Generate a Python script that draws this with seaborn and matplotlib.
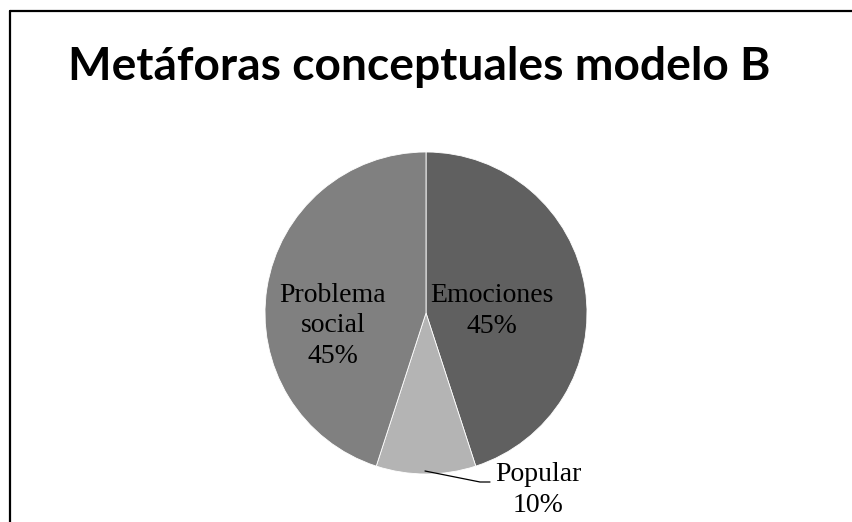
import matplotlib
matplotlib.use("Agg")
import matplotlib.pyplot as plt
import seaborn as sns
from matplotlib.lines import Line2D

# ---- data ----
categories = ["Emociones", "Popular", "Problema social"]
shares = [45, 10, 45]
slice_colors = ["#606060", "#b4b4b4", "#808080"]

sns.set_theme(style="white")
plt.rcParams["font.family"] = ["Liberation Serif", "DejaVu Serif"]

W, H = 852, 522
fig = plt.figure(figsize=(W / 100, H / 100), dpi=100)
ax = fig.add_axes([0, 0, 1, 1])
ax.set_xlim(0, W)
ax.set_ylim(0, H)
ax.set_aspect("equal")
ax.axis("off")

cx, cy, r = 426, H - 313, 161
wedges, _ = ax.pie(shares, colors=slice_colors, startangle=90, counterclock=False,
                   center=(cx, cy), radius=r,
                   wedgeprops=dict(edgecolor="white", linewidth=0.6))
ax.set_xlim(0, W)
ax.set_ylim(0, H)

lbl = dict(fontsize=20, ha="center", va="center", color="black", linespacing=1.28)
ax.text(492, H - 311, f"{categories[0]}\n{shares[0]}%", **lbl)
ax.text(333, H - 326, "Problema\nsocial\n" + f"{shares[2]}%", **lbl)
ax.text(538, H - 490, f"{categories[1]}\n{shares[1]}%", **lbl)
# leader line for the small slice
ax.plot([425, 480, 490], [H - 471, H - 482, H - 482], color="black", lw=0.9)

# title
fig.text(68 / W, 1 - 80 / H, "Metáforas conceptuales modelo B", fontsize=33.2,
         fontweight="bold", family=["Lato", "DejaVu Sans"], ha="left",
         va="baseline", color="black")

# partial frame (left and top edges)
fig.add_artist(Line2D([9.5 / W, 9.5 / W], [0, 1 - 10.5 / H], color="black",
                      lw=1.6, transform=fig.transFigure))
fig.add_artist(Line2D([9.5 / W, 1], [1 - 10.5 / H, 1 - 10.5 / H], color="black",
                      lw=1.6, transform=fig.transFigure))

fig.savefig("out.png", dpi=100, facecolor="white")
